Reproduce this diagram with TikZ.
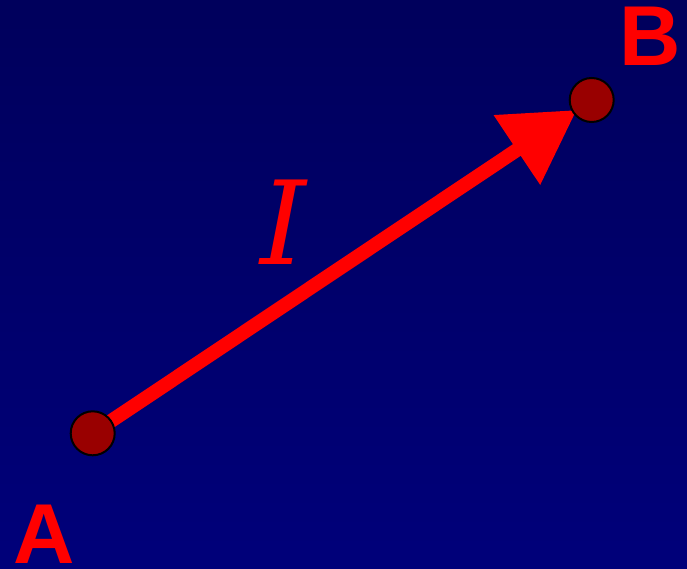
\documentclass[tikz,border=0pt]{standalone}
\usepackage{fontspec}
\setmainfont{Liberation Serif}
\newfontfamily\labelfont{Liberation Sans}
\newfontfamily\vecfont{DejaVu Serif}
\usetikzlibrary{arrows.meta,backgrounds}
\definecolor{skytop}{RGB}{0,0,92}
\definecolor{skybot}{RGB}{0,0,122}
\definecolor{dotred}{RGB}{153,0,0}
\definecolor{vecred}{RGB}{255,0,0}

\begin{document}
\begin{tikzpicture}[
  x=1pt, y=-1pt,
  dot/.style={circle, draw=black, line width=2pt, fill=dotred,
              minimum size=44pt, inner sep=0pt},
  ptlabel/.style={text=vecred, inner sep=0pt,
                  font=\labelfont\bfseries\fontsize{85}{85}\selectfont},
  veclabel/.style={text=vecred, inner sep=0pt,
                   font=\vecfont\itshape\fontsize{116}{116}\selectfont},
  vec/.style={draw=vecred, line width=14pt,
              -{Triangle[length=72pt, width=80pt]}, shorten >=-5pt}
]
\useasboundingbox (0,0) rectangle (687,569);
\node[dot] (A) at (92.7,433.3) {};
\node[dot] (B) at (591.7,100) {};
\node[ptlabel] (nameA) at (44,534.5) {A};
\node[ptlabel] (nameB) at (650.5,36) {B};
\node[veclabel] (nameI) at (283,222) {I};
\begin{scope}[on background layer]
  \shade[top color=skytop, bottom color=skybot] (0,0) rectangle (687,569);
  \path[vec] (A.center) -- (B);
\end{scope}
\end{tikzpicture}
\end{document}
